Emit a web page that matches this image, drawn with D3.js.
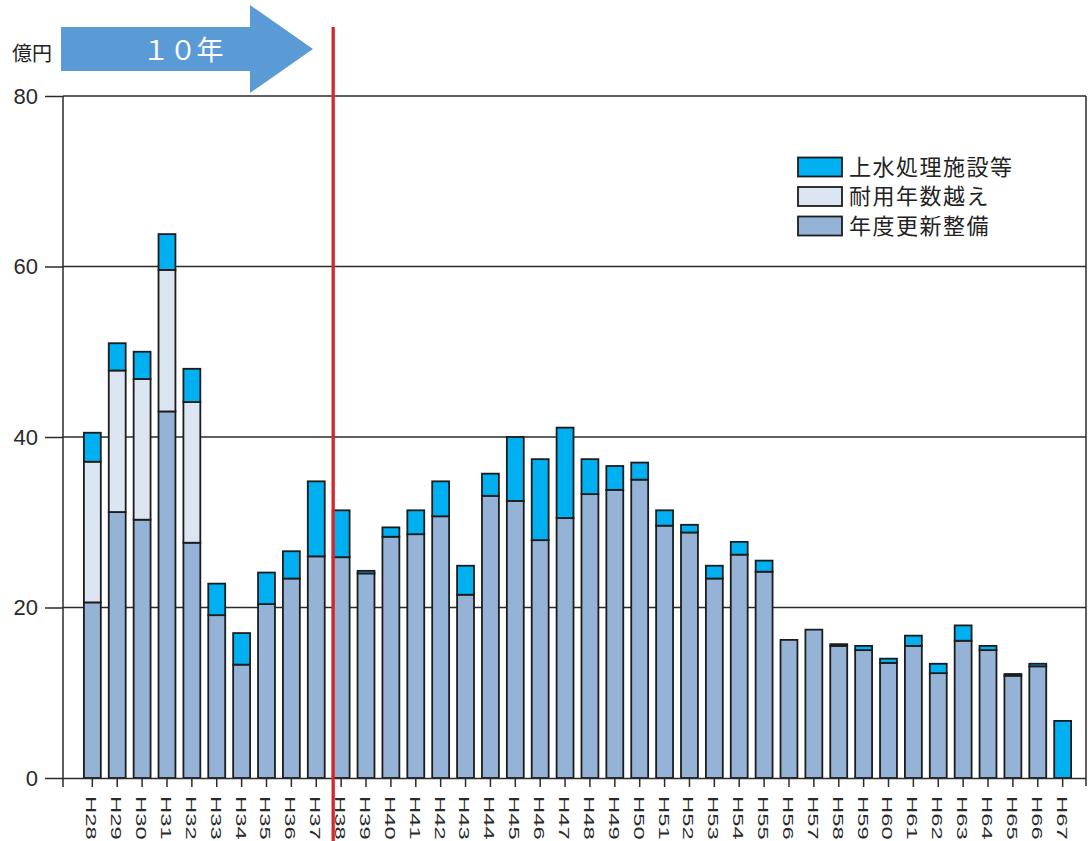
<!DOCTYPE html>
<html><head><meta charset="utf-8">
<script src="https://cdn.jsdelivr.net/npm/d3@7"></script>
<style>
html,body{margin:0;padding:0;background:#fff;}
svg{display:block;}
</style></head>
<body><svg id="c" width="1089" height="841"></svg>
<script>
const categories = ["H28","H29","H30","H31","H32","H33","H34","H35","H36","H37",
  "H38","H39","H40","H41","H42","H43","H44","H45","H46","H47",
  "H48","H49","H50","H51","H52","H53","H54","H55","H56","H57",
  "H58","H59","H60","H61","H62","H63","H64","H65","H66","H67"];
// 年度更新整備
const renewal = [20.6,31.2,30.3,43.0,27.6,19.1,13.3,20.4,23.4,26.0,
  25.9,24.0,28.3,28.6,30.7,21.5,33.1,32.5,27.9,30.5,
  33.3,33.8,35.0,29.6,28.8,23.4,26.2,24.2,16.2,17.4,
  15.5,15.0,13.5,15.5,12.3,16.1,15.0,12.0,13.1,0];
// 耐用年数越え
const overage = [16.5,16.6,16.5,16.6,16.5,0,0,0,0,0,
  0,0,0,0,0,0,0,0,0,0,
  0,0,0,0,0,0,0,0,0,0,
  0,0,0,0,0,0,0,0,0,0];
// 上水処理施設等
const treatment = [3.4,3.2,3.2,4.2,3.9,3.7,3.7,3.7,3.2,8.8,
  5.5,0.3,1.1,2.8,4.1,3.4,2.6,7.5,9.5,10.6,
  4.1,2.8,2.0,1.8,0.9,1.5,1.5,1.3,0,0,
  0.2,0.5,0.5,1.2,1.1,1.8,0.5,0.2,0.3,6.7];
const seriesNames = ["上水処理施設等","耐用年数越え","年度更新整備"];
const yTicks = [0,20,40,60,80];
const unitLabel = "億円";
const arrowLabel = "１０年";
const markerCategory = "H38";

const colors = {renewal:"#95b3d7", overage:"#dce6f2", treatment:"#00b0f0"};

const svg = d3.select("#c");
const plot = {left:63, right:1086, top:96, bottom:778};

const x = d3.scaleBand().domain(categories).range([79.9,1075.1]).paddingInner(0.32).paddingOuter(0.16);
const y = d3.scaleLinear().domain([0,80]).range([plot.bottom, plot.top]);

const rows = categories.map((c,i)=>({cat:c, renewal:renewal[i], overage:overage[i], treatment:treatment[i]}));
const stack = d3.stack().keys(["renewal","overage","treatment"]);
const layers = stack(rows);

// gridlines
svg.append("g").selectAll("line").data(yTicks.filter(v=>v>0)).join("line")
  .attr("x1",plot.left).attr("x2",plot.right)
  .attr("y1",d=>y(d)).attr("y2",d=>y(d))
  .attr("stroke","#2b2b2b").attr("stroke-width",1.5);
// right border
svg.append("line").attr("x1",plot.right).attr("x2",plot.right).attr("y1",plot.top).attr("y2",plot.bottom+8)
  .attr("stroke","#2b2b2b").attr("stroke-width",1.5);

// bars
svg.append("g").selectAll("g").data(layers).join("g")
  .attr("fill",d=>colors[d.key])
  .selectAll("rect").data(d=>d.filter(s=>s[1]-s[0]>0)).join("rect")
  .attr("x",d=>x(d.data.cat))
  .attr("width",x.bandwidth())
  .attr("y",d=>y(d[1]))
  .attr("height",d=>y(d[0])-y(d[1]))
  .attr("stroke","#1c1c1c").attr("stroke-width",1.8);

// y axis
const yAxis = svg.append("g").attr("transform",`translate(${plot.left},0)`)
  .call(d3.axisLeft(y).tickValues(yTicks).tickSize(18).tickPadding(7));
yAxis.select(".domain").remove();
yAxis.selectAll(".tick line").attr("stroke","#2b2b2b").attr("stroke-width",1.5);
yAxis.selectAll(".tick text").attr("font-family","'Liberation Sans', Arial, sans-serif")
  .attr("font-size",22).attr("fill","#2a2a2a");
svg.append("line").attr("x1",plot.left).attr("x2",plot.left).attr("y1",plot.top).attr("y2",plot.bottom+9)
  .attr("stroke","#2b2b2b").attr("stroke-width",1.5);

// x axis
const xAxis = svg.append("g").attr("transform",`translate(0,${plot.bottom})`)
  .call(d3.axisBottom(x).tickSize(9).tickSizeOuter(0));
xAxis.select(".domain").attr("d",`M${plot.left},0.5H${plot.right}`).attr("stroke","#2b2b2b").attr("stroke-width",1.5);
xAxis.selectAll(".tick line").attr("stroke","#2b2b2b").attr("stroke-width",1.5);
xAxis.selectAll(".tick text")
  .attr("font-family","'Liberation Sans', Arial, sans-serif").attr("font-size",14).attr("fill","#2a2a2a")
  .attr("text-anchor","start").attr("y",null).attr("dy",null)
  .attr("transform","translate(-1,18) rotate(90) scale(1.7,1)")
  .attr("dy","0.36em");

// unit label
svg.append("text").attr("x",12).attr("y",61).text(unitLabel)
  .attr("font-family","'Noto Sans CJK JP', sans-serif").attr("font-size",20).attr("fill","#222");

// arrow
const ap = d3.path();
ap.moveTo(61,27); ap.lineTo(250,27); ap.lineTo(250,5); ap.lineTo(313,49);
ap.lineTo(250,93); ap.lineTo(250,71); ap.lineTo(61,71); ap.closePath();
svg.append("path").attr("d",ap.toString()).attr("fill","#5b9bd5");
svg.append("text").attr("x",183).attr("y",50).attr("dy","0.36em").attr("text-anchor","middle")
  .text(arrowLabel).attr("font-family","'Noto Sans CJK JP', sans-serif").attr("font-size",27).attr("fill","#fff");

// red marker line
const mx = x(markerCategory) + 0.5;
svg.append("line").attr("x1",mx).attr("x2",mx).attr("y1",27).attr("y2",841)
  .attr("stroke","#d7262b").attr("stroke-width",3.3);

// legend
const legKeys = ["treatment","overage","renewal"];
const leg = svg.append("g");
legKeys.forEach((k,i)=>{
  const cy = 167 + i*29.5;
  leg.append("rect").attr("x",798).attr("y",cy-9.5).attr("width",44).attr("height",19)
    .attr("fill",colors[k]).attr("stroke","#1c1c1c").attr("stroke-width",1.8);
  leg.append("text").attr("x",849).attr("y",cy).attr("dy","0.36em").text(seriesNames[i])
    .attr("font-family","'Noto Sans CJK JP', sans-serif").attr("font-size",22).attr("fill","#222")
    .attr("letter-spacing",1.5);
});
</script>
</body></html>
